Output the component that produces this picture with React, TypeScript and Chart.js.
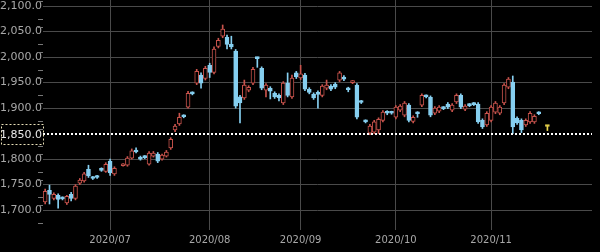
import React, { useEffect, useRef } from "react";
import { Chart, registerables } from "chart.js";

Chart.register(...registerables);

// Trading-day index 0 = 2020/06/10 ; null = no candle
const opens: (number | null)[] = [
  1716, 1739, 1723, 1729, 1724, 1714, 1731, 1723, 1753, 1757,
  1780, 1764, 1766, 1781, 1776, 1796, 1771, null, 1787, 1788,
  1802, 1817, 1804, 1805, 1790, 1806, 1810, 1800, 1806, 1822,
  1857, 1869, 1885, 1902, 1930, 1949, 1965, 1958, 1984, 1970,
  2021, 2041, 2039, 2025, 2012, 1922, 1920, 1935, 1949, 1999,
  1978, 1935, 1939, 1929, 1925, 1910, 1949, 1922, 1969, 1959,
  1965, 1937, 1927, 1931, 1925, 1939, 1943, 1947, 1955, 1961,
  1938, 1950, 1945, 1913, 1875, 1851, 1853, 1857, 1876, 1892,
  1892, 1882, 1896, 1886, 1906, 1874, 1891, 1906, 1924, 1921,
  1890, 1894, 1901, 1908, 1896, 1912, 1925, 1898, 1907, 1909,
  1908, 1876, 1867, 1876, 1892, 1890, 1910, 1941, 1951, 1880,
  1876, 1867, 1873, 1873, 1891, null, 1866,
];
const closes: (number | null)[] = [
  1737, 1731, 1731, 1721, 1722, 1727, 1723, 1747, 1759, 1771,
  1767, 1762, 1764, 1778, 1790, 1773, 1782, null, 1789, 1802,
  1816, 1814, 1800, 1803, 1812, 1812, 1796, 1808, 1814, 1839,
  1865, 1882, 1883, 1929, 1928, 1972, 1949, 1978, 1970, 2016,
  2033, 2055, 2025, 2020, 1904, 1910, 1945, 1941, 1976, 1997,
  1939, 1945, 1933, 1922, 1920, 1949, 1925, 1959, 1961, 1967,
  1937, 1931, 1920, 1927, 1943, 1945, 1937, 1941, 1969, 1957,
  1936, 1952, 1882, 1911, 1873, 1865, 1873, 1878, 1892, 1890,
  1890, 1902, 1904, 1910, 1876, 1882, 1889, 1925, 1922, 1886,
  1900, 1902, 1899, 1902, 1906, 1925, 1902, 1904, 1905, 1907,
  1873, 1863, 1890, 1902, 1910, 1902, 1945, 1957, 1863, 1871,
  1857, 1876, 1890, 1884, 1889, null, 1864,
];
const highs: (number | null)[] = [
  1741, 1749, 1734, 1732, 1726, 1729, 1735, 1750, 1762, 1774,
  1788, 1766, 1768, 1783, 1793, 1800, 1785, null, 1791, 1805,
  1820, 1822, 1806, 1807, 1815, 1815, 1813, 1810, 1817, 1842,
  1868, 1890, 1887, 1933, 1932, 1976, 1969, 1982, 1988, 2020,
  2037, 2063, 2043, 2041, 2015, 1925, 1955, 1944, 1980, 2000,
  1981, 1948, 1942, 1932, 1928, 1952, 1969, 1965, 1972, 1984,
  1968, 1940, 1930, 1934, 1946, 1955, 1946, 1950, 1972, 1964,
  1941, 1954, 1948, 1915, 1877, 1868, 1876, 1881, 1895, 1895,
  1894, 1905, 1907, 1913, 1909, 1885, 1893, 1928, 1926, 1924,
  1903, 1905, 1903, 1911, 1909, 1928, 1928, 1907, 1909, 1911,
  1911, 1879, 1893, 1905, 1913, 1905, 1948, 1960, 1963, 1883,
  1879, 1879, 1893, 1887, 1893, null, 1866,
];
const lows: (number | null)[] = [
  1712, 1712, 1720, 1704, 1720, 1711, 1718, 1720, 1750, 1755,
  1764, 1760, 1762, 1776, 1774, 1768, 1768, null, 1786, 1786,
  1800, 1812, 1798, 1801, 1788, 1804, 1793, 1798, 1804, 1819,
  1854, 1866, 1881, 1900, 1926, 1946, 1939, 1955, 1960, 1967,
  2018, 2038, 2016, 2016, 1900, 1871, 1917, 1932, 1946, 1980,
  1936, 1922, 1918, 1919, 1914, 1907, 1922, 1919, 1958, 1956,
  1934, 1928, 1917, 1900, 1922, 1936, 1934, 1938, 1952, 1954,
  1932, 1948, 1879, 1909, 1871, 1848, 1850, 1850, 1873, 1887,
  1888, 1879, 1893, 1883, 1873, 1871, 1882, 1903, 1920, 1883,
  1887, 1891, 1897, 1899, 1893, 1909, 1899, 1895, 1903, 1905,
  1870, 1860, 1864, 1873, 1889, 1887, 1907, 1938, 1850, 1868,
  1852, 1864, 1870, 1870, 1887, null, 1856,
];

const monthTickIndex = [15, 38, 59, 81, 103];
const monthLabels = ["2020/07", "2020/08", "2020/09", "2020/10", "2020/11"];
const yTickValues = [1700, 1750, 1800, 1850, 1900, 1950, 2000, 2050, 2100];
const refLevel = 1850;
const lastIndex = 116;

const UP = "#c8534c";
const DOWN = "#86cff0";
const LAST = "#e6d24a";
const GRID = "#4a4a4a";
const FONT = "DejaVu Sans";

const fmt = (v: number) =>
  v.toLocaleString("en-US", { minimumFractionDigits: 1, maximumFractionDigits: 1 });

export default function App() {
  const ref = useRef<HTMLCanvasElement | null>(null);

  useEffect(() => {
    if (!ref.current) return;
    const idx: number[] = [];
    opens.forEach((o, i) => {
      if (o != null && closes[i] != null) idx.push(i);
    });
    const colorOf = (i: number) =>
      i === lastIndex ? LAST : (closes[i] as number) >= (opens[i] as number) ? UP : DOWN;
    const fillOf = (i: number) =>
      i === lastIndex ? LAST : (closes[i] as number) >= (opens[i] as number) ? "#000000" : DOWN;

    const bodies = idx.map((i) => ({
      x: i,
      y: [Math.min(opens[i] as number, closes[i] as number), Math.max(opens[i] as number, closes[i] as number)],
    }));
    const wicks = idx.map((i) => ({ x: i, y: [lows[i] as number, highs[i] as number] }));

    const overlay = {
      id: "overlay",
      beforeDraw(chart: any) {
        const c = chart.ctx;
        c.save();
        c.fillStyle = "#000";
        c.fillRect(0, 0, chart.width, chart.height);
        c.restore();
      },
      afterDatasetsDraw(chart: any) {
        const c = chart.ctx;
        const ys = chart.scales.y;
        const { left, right, top, bottom } = chart.chartArea;
        c.save();
        // minor ticks
        c.strokeStyle = "#777";
        c.lineWidth = 1;
        for (let base = 1650; base <= 2100; base += 50) {
          for (const off of [10, 25]) {
            const v = base + off;
            const py = ys.getPixelForValue(v);
            if (py < top || py > bottom) continue;
            const yy = Math.round(py) + 0.5;
            c.beginPath();
            c.moveTo(38, yy);
            c.lineTo(43, yy);
            c.stroke();
          }
        }
        // dotted reference line
        const y = Math.round(ys.getPixelForValue(refLevel));
        c.strokeStyle = "#ffffff";
        c.lineWidth = 2;
        c.setLineDash([2, 2]);
        c.beginPath();
        c.moveTo(left, y);
        c.lineTo(right, y);
        c.stroke();
        // label box
        c.strokeStyle = "#e8e0b8";
        c.lineWidth = 1;
        c.setLineDash([2, 2]);
        c.strokeRect(1.5, y - 9.5, 42, 20);
        c.setLineDash([]);
        c.fillStyle = "#e8e8e8";
        c.font = `11px "${FONT}"`;
        c.textAlign = "right";
        c.textBaseline = "middle";
        c.fillText(fmt(refLevel), 42, y + 1);
        c.restore();
      },
    };

    const chart = new Chart(ref.current, {
      type: "bar",
      data: {
        datasets: [
          {
            data: bodies as any,
            backgroundColor: idx.map(fillOf),
            borderColor: idx.map(colorOf),
            borderWidth: 1,
            borderSkipped: false,
            barThickness: 4,
            minBarLength: 2,
            grouped: false,
            order: 0,
          } as any,
          {
            data: wicks as any,
            backgroundColor: idx.map(colorOf),
            borderWidth: 0,
            barThickness: 1,
            grouped: false,
            order: 1,
          } as any,
        ],
      },
      options: {
        animation: false,
        responsive: false,
        maintainAspectRatio: false,
        devicePixelRatio: 1,
        layout: { padding: { top: 0, right: 8, bottom: 0, left: 0 } },
        plugins: { legend: { display: false }, tooltip: { enabled: false } },
        scales: {
          x: {
            type: "linear",
            offset: false,
            min: -0.5,
            max: 126.3,
            afterBuildTicks: (s: any) => {
              s.ticks = monthTickIndex.map((v) => ({ value: v }));
            },
            afterFit: (s: any) => {
              s.height = 22;
              s.paddingLeft = 0;
              s.paddingRight = 0;
            },
            ticks: {
              autoSkip: false,
              maxRotation: 0,
              minRotation: 0,
              padding: 4,
              color: "#a8a8a8",
              font: { family: FONT, size: 10 },
              callback: (v: any) => {
                const k = monthTickIndex.indexOf(Number(v));
                return k >= 0 ? monthLabels[k] : "";
              },
            },
            grid: { color: GRID, drawTicks: false, offset: false },
            border: { display: false },
          },
          y: {
            min: 1661,
            max: 2112,
            afterBuildTicks: (s: any) => {
              s.ticks = yTickValues.map((v) => ({ value: v }));
            },
            afterFit: (s: any) => {
              s.width = 43;
              s.paddingTop = 0;
              s.paddingBottom = 0;
            },
            ticks: {
              padding: 1,
              color: "#a8a8a8",
              font: { family: FONT, size: 11 },
              callback: (v: any) => (Number(v) === refLevel ? "" : fmt(Number(v))),
            },
            grid: {
              color: (c: any) => (c.tick && c.tick.value === refLevel ? "rgba(0,0,0,0)" : GRID),
              drawTicks: false,
            },
            border: { display: false },
          },
        },
      } as any,
      plugins: [overlay],
    });
    return () => chart.destroy();
  }, []);

  return (
    <div style={{ position: "fixed", left: 0, top: 0, width: 600, height: 252, background: "#000" }}>
      <canvas ref={ref} width={600} height={252} style={{ display: "block" }} />
    </div>
  );
}
